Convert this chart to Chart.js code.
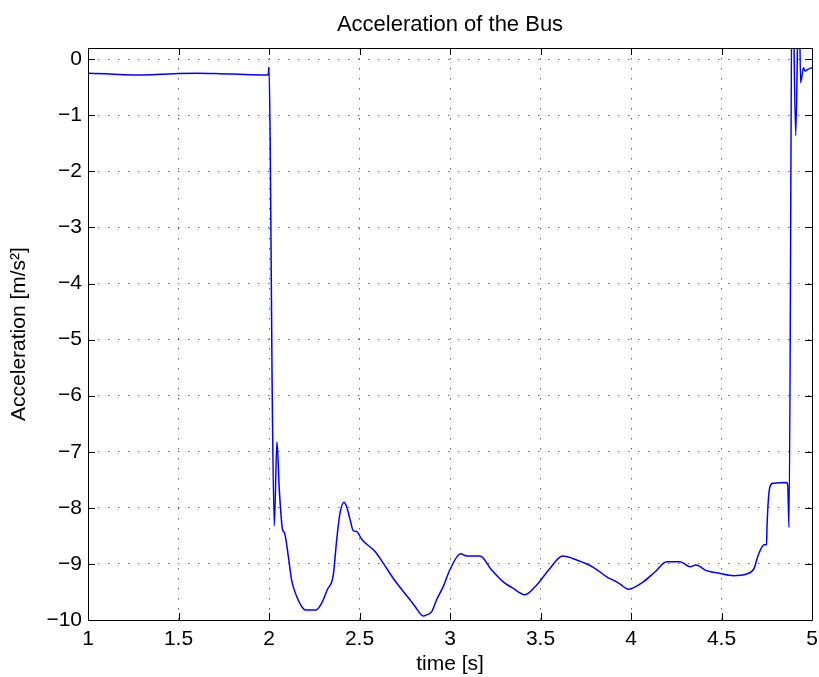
<!DOCTYPE html>
<html>
<head>
<meta charset="utf-8">
<script src="https://cdn.jsdelivr.net/npm/chart.js@4.4.1/dist/chart.umd.min.js"></script>
<style>
html,body{margin:0;padding:0;background:#fff;}
#wrap{width:819px;height:677px;}
</style>
</head>
<body>
<div id="wrap"><canvas id="c" width="819" height="677"></canvas></div>
<script>
const chartTitle = "Acceleration of the Bus";
const xLabel = "time [s]";
const yLabel = "Acceleration [m/s\u00B2]";
const xTicks = [1, 1.5, 2, 2.5, 3, 3.5, 4, 4.5, 5];
const yTicks = [0, -1, -2, -3, -4, -5, -6, -7, -8, -9, -10];
const xRange = [1, 5];
const yRange = [-10, 0.2];

const times = [1.0,1.1,1.2,1.3,1.4,1.5,1.6,1.7,1.8,1.9,1.995,2.0,2.007,2.017,2.029,2.044,2.057,2.075,2.085,2.107,2.125,2.153,2.181,2.199,2.26,2.291,2.322,2.355,2.374,2.392,2.414,2.429,2.448,2.466,2.484,2.512,2.586,2.632,2.687,2.779,2.807,2.853,2.862,2.899,2.926,2.963,3.0,3.059,3.092,3.166,3.23,3.294,3.341,3.414,3.479,3.552,3.622,3.70,3.792,3.866,3.902,3.94,3.985,4.068,4.133,4.197,4.27,4.326,4.359,4.418,4.492,4.565,4.639,4.68,4.703,4.736,4.749,4.751,4.768,4.786,4.86,4.866,4.873,4.891,4.910,4.928,4.937,4.953,4.962,4.977,5.0];
const accel = [-0.25,-0.26,-0.275,-0.28,-0.27,-0.255,-0.25,-0.255,-0.265,-0.275,-0.28,-0.14,-1.6,-5.7,-8.32,-6.82,-7.68,-8.39,-8.44,-8.87,-9.29,-9.58,-9.76,-9.82,-9.82,-9.70,-9.46,-9.2,-8.57,-8.10,-7.9,-7.98,-8.21,-8.41,-8.42,-8.56,-8.78,-8.99,-9.26,-9.64,-9.76,-9.93,-9.92,-9.85,-9.64,-9.40,-9.1,-8.82,-8.86,-8.86,-9.11,-9.32,-9.42,-9.55,-9.375,-9.08,-8.86,-8.93,-9.06,-9.23,-9.29,-9.36,-9.45,-9.32,-9.14,-8.96,-8.96,-9.05,-9.02,-9.12,-9.17,-9.21,-9.18,-9.08,-8.84,-8.66,-8.66,-8.38,-7.62,-7.56,-7.55,-7.6,-8.35,2.0,-1.36,1.5,-0.42,-0.15,-0.21,-0.18,-0.15];

const FONT = "'Liberation Sans', Arial, Helvetica, sans-serif";
const FS = 21;
const TITLE_FS = 22;

function fmt(v){
  const s = String(Math.abs(v));
  return v < 0 ? "\u2212" + s : s;
}

const boxPlugin = {
  id: 'boxPlugin',
  afterDatasetsDraw(chart){
    const {ctx, chartArea:a, scales} = chart;
    ctx.save();
    ctx.strokeStyle = '#000';
    ctx.lineWidth = 1;
    ctx.beginPath();
    ctx.rect(Math.round(a.left)+0.5, Math.round(a.top)+0.5, Math.round(a.right-a.left), Math.round(a.bottom-a.top));
    ctx.stroke();
    const tl = 7;
    ctx.beginPath();
    xTicks.forEach(v=>{
      const px = Math.round(scales.x.getPixelForValue(v))+0.5;
      ctx.moveTo(px, a.bottom); ctx.lineTo(px, a.bottom - tl);
      ctx.moveTo(px, a.top); ctx.lineTo(px, a.top + tl);
    });
    yTicks.forEach(v=>{
      const py = Math.round(scales.y.getPixelForValue(v))+0.5;
      ctx.moveTo(a.left, py); ctx.lineTo(a.left + tl, py);
      ctx.moveTo(a.right, py); ctx.lineTo(a.right - tl, py);
    });
    ctx.stroke();
    ctx.fillStyle = '#000';
    ctx.font = TITLE_FS + "px " + FONT;
    ctx.textAlign = 'center';
    ctx.textBaseline = 'alphabetic';
    ctx.fillText(chartTitle, (a.left + a.right)/2, 31);
    ctx.restore();
  }
};

const gridOpts = {
  color: 'rgba(0,0,0,0.6)',
  lineWidth: 1,
  drawTicks: false
};
const borderOpts = { display: false, dash: [1.5, 8.5] };

new Chart(document.getElementById('c'), {
  type: 'line',
  data: {
    datasets: [{
      data: times.map((t,i)=>({x:t, y:accel[i]})),
      borderColor: '#0000ff',
      borderWidth: 1.5,
      pointRadius: 0,
      cubicInterpolationMode: 'monotone',
      fill: false
    }]
  },
  options: {
    responsive: false,
    animation: false,
    devicePixelRatio: 1,
    layout: { padding: { top: 48, right: 7, left: 0, bottom: 0 } },
    plugins: { legend: { display: false }, tooltip: { enabled: false }, title: { display: false } },
    scales: {
      x: {
        type: 'linear',
        min: xRange[0], max: xRange[1],
        afterBuildTicks(s){ s.ticks = xTicks.map(v=>({value:v})); },
        afterFit(s){ s.height = 57; s.paddingLeft = 0; s.paddingRight = 0; },
        border: borderOpts,
        grid: gridOpts,
        ticks: { color: '#000', font: { family: FONT, size: FS }, padding: 7, maxRotation: 0, autoSkip: false, callback: v => fmt(v) },
        title: { display: true, text: xLabel, color: '#000', font: { family: FONT, size: FS }, padding: { top: 0, bottom: 0 } }
      },
      y: {
        type: 'linear',
        min: yRange[0], max: yRange[1],
        afterBuildTicks(s){ s.ticks = yTicks.map(v=>({value:v})); },
        afterFit(s){ s.width = 88; s.paddingTop = 0; s.paddingBottom = 0; },
        border: borderOpts,
        grid: gridOpts,
        ticks: { color: '#000', font: { family: FONT, size: FS }, padding: 6, autoSkip: false, callback: v => fmt(v) },
        title: { display: true, text: yLabel, color: '#000', font: { family: FONT, size: FS }, padding: { top: 7, bottom: 0 } }
      }
    }
  },
  plugins: [boxPlugin]
});
</script>
</body>
</html>
